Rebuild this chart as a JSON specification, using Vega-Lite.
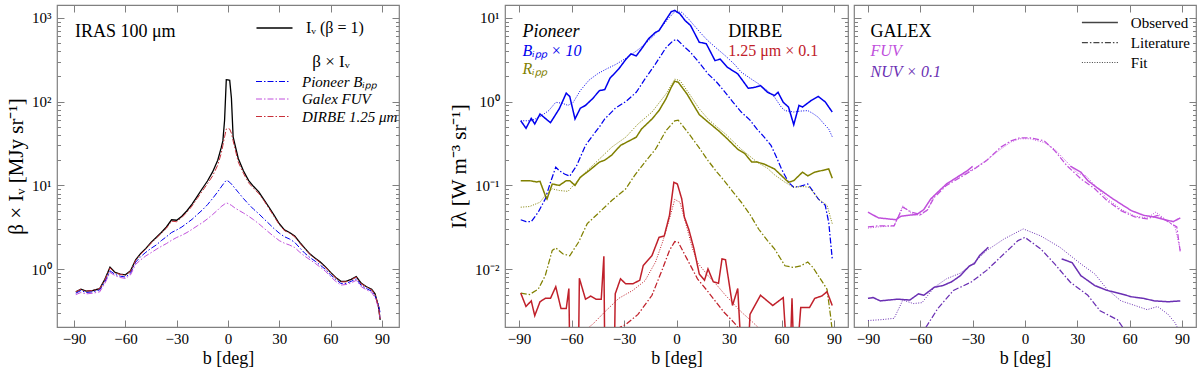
{
"$schema": "https://vega.github.io/schema/vega-lite/v6.json",
"padding": {"left": 4, "top": 3, "right": 0, "bottom": 0},
"spacing": 46,
"resolve": {"scale": {"color": "independent", "strokeDash": "independent", "strokeWidth": "independent"}},
"config": {
 "font": "Liberation Serif",
 "view": {"stroke": "#808080", "strokeWidth": 1.2},
 "axis": {"domain": false, "grid": false, "tickColor": "#808080", "tickWidth": 1, "labelFont": "Liberation Serif", "labelFontSize": 15, "labelColor": "#000000", "titleFont": "Liberation Serif", "titleFontWeight": "normal", "titleColor": "#000000", "labelOverlap": false, "labelFlush": false},
 "legend": {"labelFont": "Liberation Serif", "titleFont": "Liberation Serif", "padding": 0, "labelColor": "#000000", "titleColor": "#000000"},
 "text": {"font": "Liberation Serif"}
},
"datasets": {
"L": [
{"s":"I","b":-89,"v":0.54},{"s":"I","b":-86,"v":0.58},{"s":"I","b":-83,"v":0.55},{"s":"I","b":-79,"v":0.56},{"s":"I","b":-75,"v":0.59},{"s":"I","b":-72,"v":0.76},{"s":"I","b":-69,"v":1.06},{"s":"I","b":-66,"v":0.92},{"s":"I","b":-63,"v":0.88},{"s":"I","b":-60,"v":0.86},{"s":"I","b":-57,"v":0.96},{"s":"I","b":-54,"v":1.3},{"s":"I","b":-51,"v":1.55},{"s":"I","b":-48,"v":1.78},{"s":"I","b":-45,"v":2.1},{"s":"I","b":-42,"v":2.4},{"s":"I","b":-39,"v":2.75},{"s":"I","b":-36,"v":3.2},{"s":"I","b":-33,"v":3.9},{"s":"I","b":-30,"v":3.85},{"s":"I","b":-27,"v":4.3},{"s":"I","b":-24,"v":5.0},{"s":"I","b":-21,"v":6.0},{"s":"I","b":-18,"v":7.4},{"s":"I","b":-15,"v":9.2},{"s":"I","b":-12,"v":11.3},{"s":"I","b":-9,"v":14.5},{"s":"I","b":-6,"v":20},{"s":"I","b":-4,"v":28},{"s":"I","b":-3,"v":34},{"s":"I","b":-2,"v":60},{"s":"I","b":-1,"v":182},{"s":"I","b":0,"v":181},{"s":"I","b":1,"v":179},{"s":"I","b":2,"v":110},{"s":"I","b":3,"v":38},{"s":"I","b":4,"v":31},{"s":"I","b":6,"v":21},{"s":"I","b":9,"v":15},{"s":"I","b":12,"v":11.5},{"s":"I","b":15,"v":9.7},{"s":"I","b":18,"v":8.4},{"s":"I","b":21,"v":6.8},{"s":"I","b":24,"v":5.5},{"s":"I","b":27,"v":4.4},{"s":"I","b":30,"v":3.5},{"s":"I","b":33,"v":2.95},{"s":"I","b":36,"v":2.75},{"s":"I","b":39,"v":2.5},{"s":"I","b":42,"v":2.1},{"s":"I","b":45,"v":1.78},{"s":"I","b":48,"v":1.52},{"s":"I","b":51,"v":1.36},{"s":"I","b":54,"v":1.22},{"s":"I","b":57,"v":1.07},{"s":"I","b":60,"v":0.92},{"s":"I","b":63,"v":0.8},{"s":"I","b":66,"v":0.72},{"s":"I","b":69,"v":0.72},{"s":"I","b":72,"v":0.76},{"s":"I","b":75,"v":0.82},{"s":"I","b":78,"v":0.68},{"s":"I","b":81,"v":0.62},{"s":"I","b":84,"v":0.58},{"s":"I","b":86,"v":0.51},{"s":"I","b":88,"v":0.36},{"s":"I","b":89,"v":0.25},
{"s":"P","b":-89,"v":0.52},{"s":"P","b":-86,"v":0.56},{"s":"P","b":-83,"v":0.53},{"s":"P","b":-79,"v":0.54},{"s":"P","b":-75,"v":0.57},{"s":"P","b":-72,"v":0.71},{"s":"P","b":-69,"v":0.96},{"s":"P","b":-66,"v":0.87},{"s":"P","b":-63,"v":0.83},{"s":"P","b":-60,"v":0.81},{"s":"P","b":-57,"v":0.9},{"s":"P","b":-54,"v":1.22},{"s":"P","b":-51,"v":1.42},{"s":"P","b":-48,"v":1.6},{"s":"P","b":-45,"v":1.78},{"s":"P","b":-42,"v":1.95},{"s":"P","b":-39,"v":2.2},{"s":"P","b":-36,"v":2.45},{"s":"P","b":-33,"v":2.75},{"s":"P","b":-30,"v":2.95},{"s":"P","b":-27,"v":3.2},{"s":"P","b":-24,"v":3.55},{"s":"P","b":-21,"v":3.95},{"s":"P","b":-18,"v":4.5},{"s":"P","b":-15,"v":5.1},{"s":"P","b":-12,"v":5.9},{"s":"P","b":-9,"v":7.0},{"s":"P","b":-6,"v":8.4},{"s":"P","b":-4,"v":9.6},{"s":"P","b":-2,"v":10.9},{"s":"P","b":-1,"v":11.5},{"s":"P","b":0,"v":11.3},{"s":"P","b":1,"v":10.9},{"s":"P","b":2,"v":10.4},{"s":"P","b":4,"v":9.3},{"s":"P","b":6,"v":8.3},{"s":"P","b":9,"v":7.0},{"s":"P","b":12,"v":6.0},{"s":"P","b":15,"v":5.2},{"s":"P","b":18,"v":4.6},{"s":"P","b":21,"v":4.0},{"s":"P","b":24,"v":3.5},{"s":"P","b":27,"v":3.05},{"s":"P","b":30,"v":2.7},{"s":"P","b":33,"v":2.45},{"s":"P","b":36,"v":2.3},{"s":"P","b":39,"v":2.1},{"s":"P","b":42,"v":1.8},{"s":"P","b":45,"v":1.55},{"s":"P","b":48,"v":1.38},{"s":"P","b":51,"v":1.25},{"s":"P","b":54,"v":1.12},{"s":"P","b":57,"v":1.0},{"s":"P","b":60,"v":0.86},{"s":"P","b":63,"v":0.76},{"s":"P","b":66,"v":0.68},{"s":"P","b":69,"v":0.68},{"s":"P","b":72,"v":0.72},{"s":"P","b":75,"v":0.77},{"s":"P","b":78,"v":0.64},{"s":"P","b":81,"v":0.59},{"s":"P","b":84,"v":0.55},{"s":"P","b":86,"v":0.48},{"s":"P","b":88,"v":0.38},{"s":"P","b":89,"v":0.3},
{"s":"G","b":-89,"v":0.5},{"s":"G","b":-86,"v":0.53},{"s":"G","b":-83,"v":0.51},{"s":"G","b":-79,"v":0.52},{"s":"G","b":-75,"v":0.54},{"s":"G","b":-72,"v":0.68},{"s":"G","b":-69,"v":0.92},{"s":"G","b":-66,"v":0.84},{"s":"G","b":-63,"v":0.8},{"s":"G","b":-60,"v":0.78},{"s":"G","b":-57,"v":0.86},{"s":"G","b":-54,"v":1.15},{"s":"G","b":-51,"v":1.3},{"s":"G","b":-48,"v":1.45},{"s":"G","b":-45,"v":1.58},{"s":"G","b":-42,"v":1.73},{"s":"G","b":-39,"v":1.88},{"s":"G","b":-36,"v":2.03},{"s":"G","b":-33,"v":2.22},{"s":"G","b":-30,"v":2.4},{"s":"G","b":-27,"v":2.55},{"s":"G","b":-24,"v":2.75},{"s":"G","b":-21,"v":3.0},{"s":"G","b":-18,"v":3.3},{"s":"G","b":-15,"v":3.6},{"s":"G","b":-12,"v":4.0},{"s":"G","b":-9,"v":4.5},{"s":"G","b":-6,"v":5.1},{"s":"G","b":-4,"v":5.6},{"s":"G","b":-2,"v":6.0},{"s":"G","b":-1,"v":6.2},{"s":"G","b":0,"v":6.1},{"s":"G","b":1,"v":5.95},{"s":"G","b":2,"v":5.8},{"s":"G","b":4,"v":5.4},{"s":"G","b":6,"v":5.1},{"s":"G","b":9,"v":4.7},{"s":"G","b":12,"v":4.3},{"s":"G","b":15,"v":3.9},{"s":"G","b":18,"v":3.5},{"s":"G","b":21,"v":3.1},{"s":"G","b":24,"v":2.75},{"s":"G","b":27,"v":2.45},{"s":"G","b":30,"v":2.2},{"s":"G","b":33,"v":2.05},{"s":"G","b":36,"v":1.95},{"s":"G","b":39,"v":1.82},{"s":"G","b":42,"v":1.6},{"s":"G","b":45,"v":1.43},{"s":"G","b":48,"v":1.3},{"s":"G","b":51,"v":1.18},{"s":"G","b":54,"v":1.06},{"s":"G","b":57,"v":0.95},{"s":"G","b":60,"v":0.82},{"s":"G","b":63,"v":0.72},{"s":"G","b":66,"v":0.65},{"s":"G","b":69,"v":0.66},{"s":"G","b":72,"v":0.69},{"s":"G","b":75,"v":0.74},{"s":"G","b":78,"v":0.62},{"s":"G","b":81,"v":0.57},{"s":"G","b":84,"v":0.53},{"s":"G","b":86,"v":0.46},{"s":"G","b":88,"v":0.35},{"s":"G","b":89,"v":0.26},
{"s":"D","b":-89,"v":0.54},{"s":"D","b":-86,"v":0.58},{"s":"D","b":-83,"v":0.55},{"s":"D","b":-79,"v":0.56},{"s":"D","b":-75,"v":0.59},{"s":"D","b":-72,"v":0.75},{"s":"D","b":-69,"v":1.04},{"s":"D","b":-66,"v":0.91},{"s":"D","b":-63,"v":0.87},{"s":"D","b":-60,"v":0.85},{"s":"D","b":-57,"v":0.95},{"s":"D","b":-54,"v":1.28},{"s":"D","b":-51,"v":1.52},{"s":"D","b":-48,"v":1.75},{"s":"D","b":-45,"v":2.05},{"s":"D","b":-42,"v":2.35},{"s":"D","b":-39,"v":2.7},{"s":"D","b":-36,"v":3.1},{"s":"D","b":-33,"v":3.75},{"s":"D","b":-30,"v":3.7},{"s":"D","b":-27,"v":4.15},{"s":"D","b":-24,"v":4.8},{"s":"D","b":-21,"v":5.7},{"s":"D","b":-18,"v":7.0},{"s":"D","b":-15,"v":8.6},{"s":"D","b":-12,"v":10.5},{"s":"D","b":-9,"v":13},{"s":"D","b":-6,"v":17.5},{"s":"D","b":-4,"v":24},{"s":"D","b":-3,"v":30},{"s":"D","b":-2,"v":38},{"s":"D","b":-1,"v":47},{"s":"D","b":0,"v":48},{"s":"D","b":1,"v":47},{"s":"D","b":2,"v":42},{"s":"D","b":3,"v":34},{"s":"D","b":4,"v":28},{"s":"D","b":6,"v":19},{"s":"D","b":9,"v":14},{"s":"D","b":12,"v":10.8},{"s":"D","b":15,"v":9.2},{"s":"D","b":18,"v":8.0},{"s":"D","b":21,"v":6.6},{"s":"D","b":24,"v":5.3},{"s":"D","b":27,"v":4.25},{"s":"D","b":30,"v":3.4},{"s":"D","b":33,"v":2.9},{"s":"D","b":36,"v":2.7},{"s":"D","b":39,"v":2.45},{"s":"D","b":42,"v":2.05},{"s":"D","b":45,"v":1.75},{"s":"D","b":48,"v":1.5},{"s":"D","b":51,"v":1.34},{"s":"D","b":54,"v":1.2},{"s":"D","b":57,"v":1.05},{"s":"D","b":60,"v":0.91},{"s":"D","b":63,"v":0.79},{"s":"D","b":66,"v":0.71},{"s":"D","b":69,"v":0.71},{"s":"D","b":72,"v":0.75},{"s":"D","b":75,"v":0.81},{"s":"D","b":78,"v":0.67},{"s":"D","b":81,"v":0.62},{"s":"D","b":84,"v":0.57},{"s":"D","b":86,"v":0.5},{"s":"D","b":88,"v":0.36},{"s":"D","b":89,"v":0.25}
],
"M": [
{"s":"B","k":"o","b":-89,"v":0.59},{"s":"B","k":"o","b":-86,"v":0.48},{"s":"B","k":"o","b":-83,"v":0.63},{"s":"B","k":"o","b":-81,"v":0.54},{"s":"B","k":"o","b":-78,"v":0.71},{"s":"B","k":"o","b":-72,"v":0.56},{"s":"B","k":"o","b":-67,"v":0.82},{"s":"B","k":"o","b":-63,"v":1.26},{"s":"B","k":"o","b":-61,"v":1.15},{"s":"B","k":"o","b":-58,"v":0.62},{"s":"B","k":"o","b":-55,"v":0.83},{"s":"B","k":"o","b":-52,"v":0.9},{"s":"B","k":"o","b":-48,"v":1.08},{"s":"B","k":"o","b":-44,"v":1.35},{"s":"B","k":"o","b":-41,"v":1.39},{"s":"B","k":"o","b":-38,"v":1.9},{"s":"B","k":"o","b":-33,"v":2.45},{"s":"B","k":"o","b":-29,"v":3.17},{"s":"B","k":"o","b":-26,"v":3.7},{"s":"B","k":"o","b":-23,"v":3.5},{"s":"B","k":"o","b":-20,"v":4.25},{"s":"B","k":"o","b":-16,"v":5.6},{"s":"B","k":"o","b":-12,"v":6.7},{"s":"B","k":"o","b":-10,"v":7.0},{"s":"B","k":"o","b":-7,"v":8.8},{"s":"B","k":"o","b":-3,"v":11.8},{"s":"B","k":"o","b":-1,"v":12.2},{"s":"B","k":"o","b":2,"v":11.1},{"s":"B","k":"o","b":5,"v":9.2},{"s":"B","k":"o","b":8,"v":8.1},{"s":"B","k":"o","b":13,"v":5.1},{"s":"B","k":"o","b":17,"v":4.9},{"s":"B","k":"o","b":22,"v":3.08},{"s":"B","k":"o","b":25,"v":3.2},{"s":"B","k":"o","b":29,"v":2.57},{"s":"B","k":"o","b":35,"v":2.14},{"s":"B","k":"o","b":41,"v":1.44},{"s":"B","k":"o","b":45,"v":1.48},{"s":"B","k":"o","b":48,"v":1.55},{"s":"B","k":"o","b":52,"v":1.29},{"s":"B","k":"o","b":56,"v":1.18},{"s":"B","k":"o","b":58,"v":1.29},{"s":"B","k":"o","b":61,"v":0.98},{"s":"B","k":"o","b":64,"v":0.86},{"s":"B","k":"o","b":67,"v":0.53},{"s":"B","k":"o","b":70,"v":0.9},{"s":"B","k":"o","b":72,"v":0.86},{"s":"B","k":"o","b":77,"v":1.03},{"s":"B","k":"o","b":81,"v":1.15},{"s":"B","k":"o","b":85,"v":0.99},{"s":"B","k":"o","b":89,"v":0.75},
{"s":"B","k":"f","b":-89,"v":0.59},{"s":"B","k":"f","b":-83,"v":0.59},{"s":"B","k":"f","b":-78,"v":0.66},{"s":"B","k":"f","b":-73,"v":0.78},{"s":"B","k":"f","b":-69,"v":0.98},{"s":"B","k":"f","b":-65,"v":0.95},{"s":"B","k":"f","b":-62,"v":0.9},{"s":"B","k":"f","b":-59,"v":0.98},{"s":"B","k":"f","b":-55,"v":1.35},{"s":"B","k":"f","b":-50,"v":1.8},{"s":"B","k":"f","b":-45,"v":2.15},{"s":"B","k":"f","b":-40,"v":2.45},{"s":"B","k":"f","b":-35,"v":2.75},{"s":"B","k":"f","b":-31,"v":3.08},{"s":"B","k":"f","b":-26,"v":3.6},{"s":"B","k":"f","b":-21,"v":4.3},{"s":"B","k":"f","b":-16,"v":5.3},{"s":"B","k":"f","b":-12,"v":6.4},{"s":"B","k":"f","b":-8,"v":8.0},{"s":"B","k":"f","b":-4,"v":10.1},{"s":"B","k":"f","b":-1,"v":11.8},{"s":"B","k":"f","b":3,"v":11.6},{"s":"B","k":"f","b":7,"v":9.6},{"s":"B","k":"f","b":10,"v":8.1},{"s":"B","k":"f","b":14,"v":6.5},{"s":"B","k":"f","b":18,"v":5.3},{"s":"B","k":"f","b":23,"v":4.3},{"s":"B","k":"f","b":28,"v":3.5},{"s":"B","k":"f","b":33,"v":2.8},{"s":"B","k":"f","b":37,"v":2.24},{"s":"B","k":"f","b":42,"v":1.9},{"s":"B","k":"f","b":47,"v":1.62},{"s":"B","k":"f","b":52,"v":1.35},{"s":"B","k":"f","b":56,"v":1.13},{"s":"B","k":"f","b":60,"v":0.85},{"s":"B","k":"f","b":62,"v":0.78},{"s":"B","k":"f","b":67,"v":0.75},{"s":"B","k":"f","b":71,"v":0.77},{"s":"B","k":"f","b":75,"v":0.78},{"s":"B","k":"f","b":78,"v":0.72},{"s":"B","k":"f","b":81,"v":0.65},{"s":"B","k":"f","b":84,"v":0.55},{"s":"B","k":"f","b":87,"v":0.47},{"s":"B","k":"f","b":89,"v":0.38},
{"s":"B","k":"l","b":-89,"v":0.039},{"s":"B","k":"l","b":-86,"v":0.037},{"s":"B","k":"l","b":-83,"v":0.037},{"s":"B","k":"l","b":-79,"v":0.048},{"s":"B","k":"l","b":-75,"v":0.069},{"s":"B","k":"l","b":-72,"v":0.109},{"s":"B","k":"l","b":-69,"v":0.165},{"s":"B","k":"l","b":-67,"v":0.15},{"s":"B","k":"l","b":-64,"v":0.137},{"s":"B","k":"l","b":-61,"v":0.129},{"s":"B","k":"l","b":-57,"v":0.173},{"s":"B","k":"l","b":-52,"v":0.3},{"s":"B","k":"l","b":-48,"v":0.39},{"s":"B","k":"l","b":-44,"v":0.5},{"s":"B","k":"l","b":-41,"v":0.62},{"s":"B","k":"l","b":-35,"v":0.83},{"s":"B","k":"l","b":-29,"v":1.0},{"s":"B","k":"l","b":-23,"v":1.29},{"s":"B","k":"l","b":-18,"v":1.86},{"s":"B","k":"l","b":-12,"v":2.81},{"s":"B","k":"l","b":-6,"v":4.4},{"s":"B","k":"l","b":-2,"v":5.3},{"s":"B","k":"l","b":0,"v":5.5},{"s":"B","k":"l","b":1,"v":5.3},{"s":"B","k":"l","b":4,"v":4.6},{"s":"B","k":"l","b":8,"v":3.87},{"s":"B","k":"l","b":13,"v":2.9},{"s":"B","k":"l","b":18,"v":2.14},{"s":"B","k":"l","b":23,"v":1.7},{"s":"B","k":"l","b":27,"v":1.35},{"s":"B","k":"l","b":32,"v":1.0},{"s":"B","k":"l","b":37,"v":0.75},{"s":"B","k":"l","b":42,"v":0.6},{"s":"B","k":"l","b":46,"v":0.47},{"s":"B","k":"l","b":50,"v":0.38},{"s":"B","k":"l","b":54,"v":0.3},{"s":"B","k":"l","b":57,"v":0.22},{"s":"B","k":"l","b":60,"v":0.157},{"s":"B","k":"l","b":64,"v":0.109},{"s":"B","k":"l","b":67,"v":0.095},{"s":"B","k":"l","b":71,"v":0.098},{"s":"B","k":"l","b":75,"v":0.104},{"s":"B","k":"l","b":78,"v":0.085},{"s":"B","k":"l","b":81,"v":0.069},{"s":"B","k":"l","b":85,"v":0.058},{"s":"B","k":"l","b":87,"v":0.036},{"s":"B","k":"l","b":89,"v":0.0133},
{"s":"O","k":"o","b":-89,"v":0.114},{"s":"O","k":"o","b":-84,"v":0.114},{"s":"O","k":"o","b":-80,"v":0.11},{"s":"O","k":"o","b":-78,"v":0.112},{"s":"O","k":"o","b":-75,"v":0.076},{"s":"O","k":"o","b":-74,"v":0.069},{"s":"O","k":"o","b":-71,"v":0.104},{"s":"O","k":"o","b":-67,"v":0.1},{"s":"O","k":"o","b":-63,"v":0.114},{"s":"O","k":"o","b":-61,"v":0.114},{"s":"O","k":"o","b":-58,"v":0.1},{"s":"O","k":"o","b":-55,"v":0.125},{"s":"O","k":"o","b":-50,"v":0.15},{"s":"O","k":"o","b":-44,"v":0.19},{"s":"O","k":"o","b":-41,"v":0.2},{"s":"O","k":"o","b":-37,"v":0.23},{"s":"O","k":"o","b":-32,"v":0.3},{"s":"O","k":"o","b":-27,"v":0.34},{"s":"O","k":"o","b":-23,"v":0.376},{"s":"O","k":"o","b":-20,"v":0.47},{"s":"O","k":"o","b":-14,"v":0.62},{"s":"O","k":"o","b":-10,"v":0.78},{"s":"O","k":"o","b":-6,"v":1.08},{"s":"O","k":"o","b":-3,"v":1.48},{"s":"O","k":"o","b":-1,"v":1.75},{"s":"O","k":"o","b":1,"v":1.7},{"s":"O","k":"o","b":6,"v":1.23},{"s":"O","k":"o","b":13,"v":0.7},{"s":"O","k":"o","b":18,"v":0.57},{"s":"O","k":"o","b":24,"v":0.45},{"s":"O","k":"o","b":29,"v":0.36},{"s":"O","k":"o","b":35,"v":0.27},{"s":"O","k":"o","b":39,"v":0.24},{"s":"O","k":"o","b":43,"v":0.19},{"s":"O","k":"o","b":46,"v":0.19},{"s":"O","k":"o","b":50,"v":0.18},{"s":"O","k":"o","b":56,"v":0.157},{"s":"O","k":"o","b":60,"v":0.131},{"s":"O","k":"o","b":64,"v":0.109},{"s":"O","k":"o","b":67,"v":0.114},{"s":"O","k":"o","b":72,"v":0.144},{"s":"O","k":"o","b":75,"v":0.13},{"s":"O","k":"o","b":79,"v":0.144},{"s":"O","k":"o","b":84,"v":0.152},{"s":"O","k":"o","b":87,"v":0.157},{"s":"O","k":"o","b":89,"v":0.122},
{"s":"O","k":"f","b":-89,"v":0.055},{"s":"O","k":"f","b":-84,"v":0.056},{"s":"O","k":"f","b":-78,"v":0.063},{"s":"O","k":"f","b":-75,"v":0.076},{"s":"O","k":"f","b":-71,"v":0.091},{"s":"O","k":"f","b":-67,"v":0.087},{"s":"O","k":"f","b":-62,"v":0.085},{"s":"O","k":"f","b":-58,"v":0.105},{"s":"O","k":"f","b":-52,"v":0.144},{"s":"O","k":"f","b":-44,"v":0.207},{"s":"O","k":"f","b":-37,"v":0.286},{"s":"O","k":"f","b":-29,"v":0.376},{"s":"O","k":"f","b":-22,"v":0.54},{"s":"O","k":"f","b":-14,"v":0.75},{"s":"O","k":"f","b":-6,"v":1.23},{"s":"O","k":"f","b":-1,"v":1.85},{"s":"O","k":"f","b":2,"v":1.78},{"s":"O","k":"f","b":8,"v":1.18},{"s":"O","k":"f","b":13,"v":0.82},{"s":"O","k":"f","b":18,"v":0.62},{"s":"O","k":"f","b":23,"v":0.5},{"s":"O","k":"f","b":28,"v":0.41},{"s":"O","k":"f","b":37,"v":0.27},{"s":"O","k":"f","b":46,"v":0.19},{"s":"O","k":"f","b":52,"v":0.16},{"s":"O","k":"f","b":56,"v":0.134},{"s":"O","k":"f","b":62,"v":0.109},{"s":"O","k":"f","b":67,"v":0.095},{"s":"O","k":"f","b":72,"v":0.097},{"s":"O","k":"f","b":76,"v":0.095},{"s":"O","k":"f","b":81,"v":0.069},{"s":"O","k":"f","b":86,"v":0.058},{"s":"O","k":"f","b":89,"v":0.035},
{"s":"O","k":"l","b":-89,"v":0.0052},{"s":"O","k":"l","b":-84,"v":0.005},{"s":"O","k":"l","b":-79,"v":0.0058},{"s":"O","k":"l","b":-75,"v":0.0084},{"s":"O","k":"l","b":-71,"v":0.0168},{"s":"O","k":"l","b":-69,"v":0.018},{"s":"O","k":"l","b":-65,"v":0.0153},{"s":"O","k":"l","b":-61,"v":0.0145},{"s":"O","k":"l","b":-56,"v":0.021},{"s":"O","k":"l","b":-51,"v":0.035},{"s":"O","k":"l","b":-44,"v":0.048},{"s":"O","k":"l","b":-37,"v":0.066},{"s":"O","k":"l","b":-29,"v":0.091},{"s":"O","k":"l","b":-24,"v":0.131},{"s":"O","k":"l","b":-18,"v":0.19},{"s":"O","k":"l","b":-12,"v":0.27},{"s":"O","k":"l","b":-6,"v":0.45},{"s":"O","k":"l","b":-1,"v":0.59},{"s":"O","k":"l","b":1,"v":0.6},{"s":"O","k":"l","b":8,"v":0.39},{"s":"O","k":"l","b":13,"v":0.28},{"s":"O","k":"l","b":18,"v":0.198},{"s":"O","k":"l","b":23,"v":0.145},{"s":"O","k":"l","b":28,"v":0.109},{"s":"O","k":"l","b":32,"v":0.085},{"s":"O","k":"l","b":37,"v":0.063},{"s":"O","k":"l","b":42,"v":0.045},{"s":"O","k":"l","b":47,"v":0.03},{"s":"O","k":"l","b":52,"v":0.022},{"s":"O","k":"l","b":56,"v":0.0175},{"s":"O","k":"l","b":62,"v":0.011},{"s":"O","k":"l","b":67,"v":0.0105},{"s":"O","k":"l","b":71,"v":0.011},{"s":"O","k":"l","b":75,"v":0.0122},{"s":"O","k":"l","b":78,"v":0.0105},{"s":"O","k":"l","b":81,"v":0.0084},{"s":"O","k":"l","b":86,"v":0.0058},{"s":"O","k":"l","b":88,"v":0.0028},{"s":"O","k":"l","b":89.5,"v":0.0015},
{"s":"D","k":"o","b":-89,"v":0.0052},{"s":"D","k":"o","b":-86,"v":0.0036},{"s":"D","k":"o","b":-83,"v":0.0042},{"s":"D","k":"o","b":-81,"v":0.0028},{"s":"D","k":"o","b":-78,"v":0.0041},{"s":"D","k":"o","b":-75,"v":0.0045},{"s":"D","k":"o","b":-72,"v":0.0045},{"s":"D","k":"o","b":-69,"v":0.0062},{"s":"D","k":"o","b":-66,"v":0.0034},{"s":"D","k":"o","b":-63,"v":0.0034},{"s":"D","k":"o","b":-61.5,"v":0.0059},{"s":"D","k":"o","b":-61,"v":0.001},{"s":"D","k":"o","b":-56,"v":0.001},{"s":"D","k":"o","b":-55.5,"v":0.0078},{"s":"D","k":"o","b":-52,"v":0.0044},{"s":"D","k":"o","b":-49,"v":0.0048},{"s":"D","k":"o","b":-46,"v":0.0044},{"s":"D","k":"o","b":-43,"v":0.0044},{"s":"D","k":"o","b":-41.5,"v":0.0143},{"s":"D","k":"o","b":-41,"v":0.001},{"s":"D","k":"o","b":-35.5,"v":0.001},{"s":"D","k":"o","b":-35,"v":0.0051},{"s":"D","k":"o","b":-32,"v":0.0077},{"s":"D","k":"o","b":-29,"v":0.0067},{"s":"D","k":"o","b":-25,"v":0.0067},{"s":"D","k":"o","b":-21,"v":0.0074},{"s":"D","k":"o","b":-19,"v":0.0111},{"s":"D","k":"o","b":-14,"v":0.0146},{"s":"D","k":"o","b":-10,"v":0.024},{"s":"D","k":"o","b":-7,"v":0.025},{"s":"D","k":"o","b":-4,"v":0.044},{"s":"D","k":"o","b":-1.5,"v":0.109},{"s":"D","k":"o","b":0.5,"v":0.104},{"s":"D","k":"o","b":3,"v":0.069},{"s":"D","k":"o","b":4.5,"v":0.042},{"s":"D","k":"o","b":7,"v":0.03},{"s":"D","k":"o","b":10,"v":0.0175},{"s":"D","k":"o","b":13,"v":0.0088},{"s":"D","k":"o","b":16,"v":0.0074},{"s":"D","k":"o","b":18,"v":0.0101},{"s":"D","k":"o","b":21,"v":0.0071},{"s":"D","k":"o","b":24,"v":0.0068},{"s":"D","k":"o","b":26,"v":0.0133},{"s":"D","k":"o","b":28,"v":0.013},{"s":"D","k":"o","b":32,"v":0.0037},{"s":"D","k":"o","b":35,"v":0.0059},{"s":"D","k":"o","b":37,"v":0.001},{"s":"D","k":"o","b":41,"v":0.001},{"s":"D","k":"o","b":42,"v":0.0029},{"s":"D","k":"o","b":48,"v":0.0049},{"s":"D","k":"o","b":55,"v":0.0037},{"s":"D","k":"o","b":61,"v":0.0046},{"s":"D","k":"o","b":63,"v":0.001},{"s":"D","k":"o","b":65,"v":0.001},{"s":"D","k":"o","b":66,"v":0.0045},{"s":"D","k":"o","b":67,"v":0.001},{"s":"D","k":"o","b":69,"v":0.001},{"s":"D","k":"o","b":71,"v":0.0035},{"s":"D","k":"o","b":76,"v":0.0035},{"s":"D","k":"o","b":79,"v":0.0045},{"s":"D","k":"o","b":83,"v":0.0048},{"s":"D","k":"o","b":86,"v":0.0054},{"s":"D","k":"o","b":89,"v":0.0037},
{"s":"D","k":"f","b":-56,"v":0.0015},{"s":"D","k":"f","b":-52,"v":0.0019},{"s":"D","k":"f","b":-48,"v":0.0022},{"s":"D","k":"f","b":-41,"v":0.0031},{"s":"D","k":"f","b":-33,"v":0.0045},{"s":"D","k":"f","b":-25,"v":0.0056},{"s":"D","k":"f","b":-18,"v":0.0073},{"s":"D","k":"f","b":-12,"v":0.0122},{"s":"D","k":"f","b":-8,"v":0.021},{"s":"D","k":"f","b":-4,"v":0.04},{"s":"D","k":"f","b":-1,"v":0.068},{"s":"D","k":"f","b":2,"v":0.063},{"s":"D","k":"f","b":6,"v":0.031},{"s":"D","k":"f","b":9,"v":0.018},{"s":"D","k":"f","b":12,"v":0.012},{"s":"D","k":"f","b":18,"v":0.0084},{"s":"D","k":"f","b":23,"v":0.0065},{"s":"D","k":"f","b":28,"v":0.0049},{"s":"D","k":"f","b":37,"v":0.0031},{"s":"D","k":"f","b":43,"v":0.0024},{"s":"D","k":"f","b":48,"v":0.0019},{"s":"D","k":"f","b":52,"v":0.0015},
{"s":"D","k":"l","b":-38,"v":0.0015},{"s":"D","k":"l","b":-35,"v":0.0019},{"s":"D","k":"l","b":-29,"v":0.0022},{"s":"D","k":"l","b":-22,"v":0.0029},{"s":"D","k":"l","b":-14,"v":0.0049},{"s":"D","k":"l","b":-8,"v":0.0101},{"s":"D","k":"l","b":-4,"v":0.0168},{"s":"D","k":"l","b":-1,"v":0.0214},{"s":"D","k":"l","b":1,"v":0.021},{"s":"D","k":"l","b":6,"v":0.0133},{"s":"D","k":"l","b":12,"v":0.0077},{"s":"D","k":"l","b":18,"v":0.0054},{"s":"D","k":"l","b":27,"v":0.0031},{"s":"D","k":"l","b":33,"v":0.0023},{"s":"D","k":"l","b":37,"v":0.0018}
],
"R": [
{"s":"F","k":"o","b":-90,"v":0.048},{"s":"F","k":"o","b":-84,"v":0.041},{"s":"F","k":"o","b":-79,"v":0.04},{"s":"F","k":"o","b":-74,"v":0.039},{"s":"F","k":"o","b":-71,"v":0.043},{"s":"F","k":"o","b":-67,"v":0.044},{"s":"F","k":"o","b":-62,"v":0.045},{"s":"F","k":"o","b":-58,"v":0.0515},{"s":"F","k":"o","b":-54,"v":0.069},{"s":"F","k":"o","b":-50,"v":0.083},{"s":"F","k":"o","b":-45,"v":0.104},{"s":"F","k":"o","b":-39,"v":0.125},{"s":"F","k":"o","b":-33,"v":0.15},{"s":"F","k":"o","b":-30,"v":0.169},
{"s":"F2","k":"o","b":26,"v":0.17},{"s":"F2","k":"o","b":32,"v":0.144},{"s":"F2","k":"o","b":36,"v":0.114},{"s":"F2","k":"o","b":41,"v":0.095},{"s":"F2","k":"o","b":45,"v":0.083},{"s":"F2","k":"o","b":50,"v":0.07},{"s":"F2","k":"o","b":55,"v":0.06},{"s":"F2","k":"o","b":61,"v":0.05},{"s":"F2","k":"o","b":68,"v":0.044},{"s":"F2","k":"o","b":74,"v":0.042},{"s":"F2","k":"o","b":80,"v":0.039},{"s":"F2","k":"o","b":85,"v":0.037},{"s":"F2","k":"o","b":89,"v":0.041},
{"s":"F","k":"l","b":-90,"v":0.032},{"s":"F","k":"l","b":-84,"v":0.033},{"s":"F","k":"l","b":-75,"v":0.033},{"s":"F","k":"l","b":-70,"v":0.055},{"s":"F","k":"l","b":-65,"v":0.048},{"s":"F","k":"l","b":-60,"v":0.045},{"s":"F","k":"l","b":-56,"v":0.051},{"s":"F","k":"l","b":-52,"v":0.072},{"s":"F","k":"l","b":-45,"v":0.1},{"s":"F","k":"l","b":-37,"v":0.125},{"s":"F","k":"l","b":-29,"v":0.157},{"s":"F","k":"l","b":-22,"v":0.198},{"s":"F","k":"l","b":-14,"v":0.285},{"s":"F","k":"l","b":-8,"v":0.34},{"s":"F","k":"l","b":-3,"v":0.369},{"s":"F","k":"l","b":3,"v":0.369},{"s":"F","k":"l","b":11,"v":0.34},{"s":"F","k":"l","b":17,"v":0.26},{"s":"F","k":"l","b":24,"v":0.172},{"s":"F","k":"l","b":32,"v":0.12},{"s":"F","k":"l","b":40,"v":0.091},{"s":"F","k":"l","b":47,"v":0.066},{"s":"F","k":"l","b":55,"v":0.05},{"s":"F","k":"l","b":63,"v":0.042},{"s":"F","k":"l","b":70,"v":0.04},{"s":"F","k":"l","b":76,"v":0.044},{"s":"F","k":"l","b":82,"v":0.037},{"s":"F","k":"l","b":87,"v":0.032},{"s":"F","k":"l","b":89,"v":0.016},
{"s":"F","k":"f","b":-90,"v":0.031},{"s":"F","k":"f","b":-84,"v":0.032},{"s":"F","k":"f","b":-75,"v":0.033},{"s":"F","k":"f","b":-70,"v":0.057},{"s":"F","k":"f","b":-65,"v":0.046},{"s":"F","k":"f","b":-60,"v":0.044},{"s":"F","k":"f","b":-56,"v":0.05},{"s":"F","k":"f","b":-52,"v":0.076},{"s":"F","k":"f","b":-45,"v":0.105},{"s":"F","k":"f","b":-37,"v":0.128},{"s":"F","k":"f","b":-29,"v":0.16},{"s":"F","k":"f","b":-22,"v":0.2},{"s":"F","k":"f","b":-14,"v":0.27},{"s":"F","k":"f","b":-8,"v":0.33},{"s":"F","k":"f","b":-3,"v":0.36},{"s":"F","k":"f","b":3,"v":0.36},{"s":"F","k":"f","b":11,"v":0.325},{"s":"F","k":"f","b":17,"v":0.27},{"s":"F","k":"f","b":24,"v":0.19},{"s":"F","k":"f","b":30,"v":0.14},{"s":"F","k":"f","b":35,"v":0.13},{"s":"F","k":"f","b":40,"v":0.1},{"s":"F","k":"f","b":47,"v":0.07},{"s":"F","k":"f","b":55,"v":0.052},{"s":"F","k":"f","b":63,"v":0.043},{"s":"F","k":"f","b":70,"v":0.041},{"s":"F","k":"f","b":75,"v":0.048},{"s":"F","k":"f","b":80,"v":0.04},{"s":"F","k":"f","b":86,"v":0.032},{"s":"F","k":"f","b":89,"v":0.017},
{"s":"N","k":"o","b":-90,"v":0.0045},{"s":"N","k":"o","b":-87,"v":0.0046},{"s":"N","k":"o","b":-83,"v":0.0042},{"s":"N","k":"o","b":-73,"v":0.0044},{"s":"N","k":"o","b":-66,"v":0.0043},{"s":"N","k":"o","b":-61,"v":0.0051},{"s":"N","k":"o","b":-58,"v":0.0049},{"s":"N","k":"o","b":-52,"v":0.0061},{"s":"N","k":"o","b":-47,"v":0.0064},{"s":"N","k":"o","b":-42,"v":0.0071},{"s":"N","k":"o","b":-37,"v":0.0084},{"s":"N","k":"o","b":-32,"v":0.0109},{"s":"N","k":"o","b":-29,"v":0.0117},{"s":"N","k":"o","b":-26,"v":0.0146},{"s":"N","k":"o","b":-21,"v":0.0183},
{"s":"N2","k":"o","b":21,"v":0.0133},{"s":"N2","k":"o","b":27,"v":0.012},{"s":"N2","k":"o","b":32,"v":0.0084},{"s":"N2","k":"o","b":40,"v":0.0064},{"s":"N2","k":"o","b":47,"v":0.0056},{"s":"N2","k":"o","b":55,"v":0.0051},{"s":"N2","k":"o","b":61,"v":0.0047},{"s":"N2","k":"o","b":68,"v":0.0045},{"s":"N2","k":"o","b":74,"v":0.0042},{"s":"N2","k":"o","b":82,"v":0.0041},{"s":"N2","k":"o","b":89,"v":0.0042},
{"s":"N","k":"l","b":-59,"v":0.0015},{"s":"N","k":"l","b":-57,"v":0.002},{"s":"N","k":"l","b":-50,"v":0.0034},{"s":"N","k":"l","b":-41,"v":0.0056},{"s":"N","k":"l","b":-31,"v":0.007},{"s":"N","k":"l","b":-22,"v":0.0097},{"s":"N","k":"l","b":-12,"v":0.0153},{"s":"N","k":"l","b":-4,"v":0.022},{"s":"N","k":"l","b":0,"v":0.024},{"s":"N","k":"l","b":9,"v":0.0175},{"s":"N","k":"l","b":17,"v":0.0116},{"s":"N","k":"l","b":26,"v":0.007},{"s":"N","k":"l","b":36,"v":0.0049},{"s":"N","k":"l","b":43,"v":0.0032},{"s":"N","k":"l","b":53,"v":0.0025},{"s":"N","k":"l","b":57,"v":0.0019},{"s":"N","k":"l","b":59,"v":0.0015},
{"s":"N","k":"f","b":-90,"v":0.00245},{"s":"N","k":"f","b":-83,"v":0.0025},{"s":"N","k":"f","b":-75,"v":0.0026},{"s":"N","k":"f","b":-70,"v":0.0043},{"s":"N","k":"f","b":-64,"v":0.0039},{"s":"N","k":"f","b":-59,"v":0.004},{"s":"N","k":"f","b":-52,"v":0.0061},{"s":"N","k":"f","b":-45,"v":0.0077},{"s":"N","k":"f","b":-37,"v":0.009},{"s":"N","k":"f","b":-29,"v":0.0121},{"s":"N","k":"f","b":-22,"v":0.0167},{"s":"N","k":"f","b":-12,"v":0.023},{"s":"N","k":"f","b":-1,"v":0.0303},{"s":"N","k":"f","b":9,"v":0.025},{"s":"N","k":"f","b":20,"v":0.0183},{"s":"N","k":"f","b":32,"v":0.0116},{"s":"N","k":"f","b":40,"v":0.0088},{"s":"N","k":"f","b":47,"v":0.0058},{"s":"N","k":"f","b":55,"v":0.0042},{"s":"N","k":"f","b":63,"v":0.0037},{"s":"N","k":"f","b":70,"v":0.0033},{"s":"N","k":"f","b":76,"v":0.0036},{"s":"N","k":"f","b":82,"v":0.0029},{"s":"N","k":"f","b":86,"v":0.0023},{"s":"N","k":"f","b":88,"v":0.0019},{"s":"N","k":"f","b":89,"v":0.0015}
]
},
"hconcat": [
{
 "width": 342, "height": 322,
 "data": {"name": "L"},
 "layer": [
  {"transform": [{"filter": "datum.s == 'I'"}],
   "mark": {"type": "line", "strokeWidth": 1.3, "clip": true},
   "encoding": {
    "x": {"field": "b", "type": "quantitative", "scale": {"domain": [-100, 100]}, "axis": {"orient": "bottom", "values": [-90,-60,-30,0,30,60,90], "tickSize": -7, "labelPadding": 11, "labelExpr": "datum.value < 0 ? '−' + abs(datum.value) : '' + datum.value", "title": "b [deg]", "titleFontSize": 18, "titlePadding": 3}},
    "y": {"field": "v", "type": "quantitative", "scale": {"type": "log", "domain": [0.2056, 1416]}, "axis": {"orient": "left", "values": [0.2,0.3,0.4,0.5,0.6,0.7,0.8,0.9,1,2,3,4,5,6,7,8,9,10,20,30,40,50,60,70,80,90,100,200,300,400,500,600,700,800,900,1000], "tickSize": {"condition": {"test": "indexof([1,10,100,1000], datum.value) >= 0", "value": -7}, "value": -3.5}, "labelPadding": 13, "labelExpr": "datum.value == 1000 ? '10³' : datum.value == 100 ? '10²' : datum.value == 10 ? '10¹' : datum.value == 1 ? '10⁰' : ''", "title": "β × Iᵥ [MJy sr⁻¹]", "titleFontSize": 21, "titlePadding": 5}},
    "color": {"field": "s", "type": "nominal", "scale": {"domain": ["I"], "range": ["#000000"]}, "legend": {"orient": "none", "legendX": 209.5, "legendY": 15, "title": null, "labelExpr": "'Iᵥ (β = 1)'", "labelFontSize": 16, "symbolType": "stroke", "symbolSize": 100, "symbolStrokeWidth": 1.3, "labelOffset": 23.5, "encode": {"symbols": {"update": {"shape": {"value": "M-3.6,0H3.6"}}}}}}
   }},
  {"transform": [{"filter": "datum.s != 'I'"}],
   "mark": {"type": "line", "strokeWidth": 1, "strokeDash": [6, 2, 1.5, 2], "clip": true},
   "encoding": {
    "x": {"field": "b", "type": "quantitative", "scale": {"domain": [-100, 100]}, "axis": null},
    "y": {"field": "v", "type": "quantitative", "scale": {"type": "log", "domain": [0.2056, 1416]}, "axis": null},
    "color": {"field": "s", "type": "nominal", "scale": {"domain": ["P","G","D"], "range": ["#0000ee","#c04fdc","#c8303a"]}, "legend": {"orient": "none", "legendX": 208, "legendY": 49, "title": "β × Iᵥ", "titleFontSize": 17, "titleFontWeight": "normal", "titleAnchor": "middle", "titlePadding": 3, "labelExpr": "datum.value == 'P' ? 'Pioneer Bᵢₚₚ' : datum.value == 'G' ? 'Galex FUV' : 'DIRBE 1.25 μm'", "labelFontStyle": "italic", "labelFontSize": 15, "symbolType": "stroke", "symbolSize": 100, "symbolStrokeWidth": 1, "symbolDash": [6, 2, 1.5, 2], "labelOffset": 22, "rowPadding": 1.5, "encode": {"symbols": {"update": {"shape": {"value": "M-3.3,0H3.3"}}}}}}
   }},
  {"transform": [{"filter": "datum.s == 'I'"}],
   "mark": {"type": "point", "opacity": 0},
   "encoding": {
    "x": {"field": "b", "type": "quantitative", "scale": {"domain": [-100, 100]}, "axis": {"orient": "top", "values": [-90,-60,-30,0,30,60,90], "tickSize": -7, "labels": false, "title": null}},
    "y": {"field": "v", "type": "quantitative", "scale": {"type": "log", "domain": [0.2056, 1416]}, "axis": {"orient": "right", "values": [0.2,0.3,0.4,0.5,0.6,0.7,0.8,0.9,1,2,3,4,5,6,7,8,9,10,20,30,40,50,60,70,80,90,100,200,300,400,500,600,700,800,900,1000], "tickSize": {"condition": {"test": "indexof([1,10,100,1000], datum.value) >= 0", "value": -7}, "value": -3.5}, "labels": false, "title": null}}
   }},
  {"data": {"values": [{}]},
   "mark": {"type": "text", "text": "IRAS 100 μm", "fontSize": 18, "align": "left", "baseline": "alphabetic", "color": "#000000"},
   "encoding": {"x": {"datum": -89.5, "type": "quantitative", "scale": {"domain": [-100, 100]}, "axis": null}, "y": {"datum": 583, "type": "quantitative", "scale": {"type": "log", "domain": [0.2056, 1416]}, "axis": null}}}
 ],
 "resolve": {"scale": {"color": "independent"}, "axis": {"x": "independent", "y": "independent"}}
},
{
 "spacing": 2,
 "resolve": {"scale": {"color": "independent", "strokeDash": "independent", "strokeWidth": "independent"}},
 "hconcat": [
 {
  "width": 343, "height": 322,
  "data": {"name": "M"},
  "layer": [
   {"mark": {"type": "line", "clip": true},
    "encoding": {
     "x": {"field": "b", "type": "quantitative", "scale": {"domain": [-98, 98]}, "axis": {"orient": "bottom", "values": [-90,-60,-30,0,30,60,90], "tickSize": -7, "labelPadding": 11, "labelExpr": "datum.value < 0 ? '−' + abs(datum.value) : '' + datum.value", "title": "b [deg]", "titleFontSize": 18, "titlePadding": 3}},
     "y": {"field": "v", "type": "quantitative", "scale": {"type": "log", "domain": [0.00205, 14.17]}, "axis": {"orient": "left", "values": [0.003,0.004,0.005,0.006,0.007,0.008,0.009,0.01,0.02,0.03,0.04,0.05,0.06,0.07,0.08,0.09,0.1,0.2,0.3,0.4,0.5,0.6,0.7,0.8,0.9,1,2,3,4,5,6,7,8,9,10], "tickSize": {"condition": {"test": "indexof([0.01,0.1,1,10], datum.value) >= 0", "value": -7}, "value": -3.5}, "labelPadding": 13, "labelExpr": "datum.value == 10 ? '10¹' : datum.value == 1 ? '10⁰' : datum.value == 0.1 ? '10⁻¹' : datum.value == 0.01 ? '10⁻²' : ''", "title": "Iλ [W m⁻³ sr⁻¹]", "titleFontSize": 21, "titlePadding": 5}},
     "color": {"field": "s", "type": "nominal", "scale": {"domain": ["B","O","D"], "range": ["#0000ee","#808000","#c0202a"]}, "legend": null},
     "strokeDash": {"field": "k", "type": "nominal", "scale": {"domain": ["o","l","f"], "range": [[1,0],[6,2,1.5,2],[1,1.5]]}, "legend": null},
     "strokeWidth": {"field": "k", "type": "ordinal", "scale": {"domain": ["o","l","f"], "range": [1.5,1,1]}, "legend": null}
    }},
   {"transform": [{"filter": "datum.s == 'B'"}],
    "mark": {"type": "point", "opacity": 0},
    "encoding": {
     "x": {"field": "b", "type": "quantitative", "scale": {"domain": [-98, 98]}, "axis": {"orient": "top", "values": [-90,-60,-30,0,30,60,90], "tickSize": -7, "labels": false, "title": null}},
     "y": {"field": "v", "type": "quantitative", "scale": {"type": "log", "domain": [0.00205, 14.17]}, "axis": {"orient": "right", "values": [0.003,0.004,0.005,0.006,0.007,0.008,0.009,0.01,0.02,0.03,0.04,0.05,0.06,0.07,0.08,0.09,0.1,0.2,0.3,0.4,0.5,0.6,0.7,0.8,0.9,1,2,3,4,5,6,7,8,9,10], "tickSize": {"condition": {"test": "indexof([0.01,0.1,1,10], datum.value) >= 0", "value": -7}, "value": -3.5}, "labels": false, "title": null}}
    }},
   {"data": {"values": [{}]},
    "mark": {"type": "text", "text": "Pioneer", "fontSize": 18, "fontStyle": "italic", "align": "left", "baseline": "alphabetic", "color": "#000000"},
    "encoding": {"x": {"datum": -88, "type": "quantitative", "scale": {"domain": [-98, 98]}, "axis": null}, "y": {"datum": 5.89, "type": "quantitative", "scale": {"type": "log", "domain": [0.00205, 14.17]}, "axis": null}}},
   {"data": {"values": [{}]},
    "mark": {"type": "text", "text": "Bᵢₚₚ × 10", "fontSize": 16, "fontStyle": "italic", "align": "left", "baseline": "alphabetic", "color": "#0000ee"},
    "encoding": {"x": {"datum": -88, "type": "quantitative", "scale": {"domain": [-98, 98]}, "axis": null}, "y": {"datum": 3.45, "type": "quantitative", "scale": {"type": "log", "domain": [0.00205, 14.17]}, "axis": null}}},
   {"data": {"values": [{}]},
    "mark": {"type": "text", "text": "Rᵢₚₚ", "fontSize": 16, "fontStyle": "italic", "align": "left", "baseline": "alphabetic", "color": "#808000"},
    "encoding": {"x": {"datum": -88, "type": "quantitative", "scale": {"domain": [-98, 98]}, "axis": null}, "y": {"datum": 2.13, "type": "quantitative", "scale": {"type": "log", "domain": [0.00205, 14.17]}, "axis": null}}},
   {"data": {"values": [{}]},
    "mark": {"type": "text", "text": "DIRBE", "fontSize": 18, "align": "left", "baseline": "alphabetic", "color": "#000000"},
    "encoding": {"x": {"datum": 29.5, "type": "quantitative", "scale": {"domain": [-98, 98]}, "axis": null}, "y": {"datum": 5.89, "type": "quantitative", "scale": {"type": "log", "domain": [0.00205, 14.17]}, "axis": null}}},
   {"data": {"values": [{}]},
    "mark": {"type": "text", "text": "1.25 μm × 0.1", "fontSize": 16, "align": "left", "baseline": "alphabetic", "color": "#c0202a"},
    "encoding": {"x": {"datum": 29.5, "type": "quantitative", "scale": {"domain": [-98, 98]}, "axis": null}, "y": {"datum": 3.45, "type": "quantitative", "scale": {"type": "log", "domain": [0.00205, 14.17]}, "axis": null}}}
  ],
  "resolve": {"axis": {"x": "independent", "y": "independent"}}
 },
 {
  "width": 342, "height": 322,
  "data": {"name": "R"},
  "layer": [
   {"mark": {"type": "line", "clip": true},
    "encoding": {
     "x": {"field": "b", "type": "quantitative", "scale": {"domain": [-98, 98]}, "axis": {"orient": "bottom", "values": [-90,-60,-30,0,30,60,90], "tickSize": -7, "labelPadding": 11, "labelExpr": "datum.value < 0 ? '−' + abs(datum.value) : '' + datum.value", "title": "b [deg]", "titleFontSize": 18, "titlePadding": 3}},
     "y": {"field": "v", "type": "quantitative", "scale": {"type": "log", "domain": [0.00205, 14.17]}, "axis": {"orient": "left", "values": [0.003,0.004,0.005,0.006,0.007,0.008,0.009,0.01,0.02,0.03,0.04,0.05,0.06,0.07,0.08,0.09,0.1,0.2,0.3,0.4,0.5,0.6,0.7,0.8,0.9,1,2,3,4,5,6,7,8,9,10], "tickSize": {"condition": {"test": "indexof([0.01,0.1,1,10], datum.value) >= 0", "value": -7}, "value": -3.5}, "labels": false, "title": null}},
     "color": {"field": "s", "type": "nominal", "scale": {"domain": ["F","F2","N","N2"], "range": ["#c04fdc","#c04fdc","#6a2fb3","#6a2fb3"]}, "legend": null},
     "strokeDash": {"field": "k", "type": "nominal", "scale": {"domain": ["o","l","f"], "range": [[1,0],[6,2,1.5,2],[1,1.5]]}, "legend": {"orient": "none", "legendX": 238.4, "legendY": 10, "title": null, "labelExpr": "datum.value == 'o' ? 'Observed' : datum.value == 'l' ? 'Literature' : 'Fit'", "labelFontSize": 15, "symbolType": "stroke", "symbolSize": 100, "symbolStrokeColor": "#444444", "symbolStrokeWidth": 1.3, "labelOffset": 23.4, "rowPadding": 4, "encode": {"symbols": {"update": {"shape": {"value": "M-3.6,0H3.6"}}}}}},
     "strokeWidth": {"field": "k", "type": "ordinal", "scale": {"domain": ["o","l","f"], "range": [1.5,1,1]}, "legend": null}
    }},
   {"transform": [{"filter": "datum.s == 'F'"}],
    "mark": {"type": "point", "opacity": 0},
    "encoding": {
     "x": {"field": "b", "type": "quantitative", "scale": {"domain": [-98, 98]}, "axis": {"orient": "top", "values": [-90,-60,-30,0,30,60,90], "tickSize": -7, "labels": false, "title": null}},
     "y": {"field": "v", "type": "quantitative", "scale": {"type": "log", "domain": [0.00205, 14.17]}, "axis": {"orient": "right", "values": [0.003,0.004,0.005,0.006,0.007,0.008,0.009,0.01,0.02,0.03,0.04,0.05,0.06,0.07,0.08,0.09,0.1,0.2,0.3,0.4,0.5,0.6,0.7,0.8,0.9,1,2,3,4,5,6,7,8,9,10], "tickSize": {"condition": {"test": "indexof([0.01,0.1,1,10], datum.value) >= 0", "value": -7}, "value": -3.5}, "labels": false, "title": null}}
    }},
   {"data": {"values": [{}]},
    "mark": {"type": "text", "text": "GALEX", "fontSize": 18, "align": "left", "baseline": "alphabetic", "color": "#000000"},
    "encoding": {"x": {"datum": -88.5, "type": "quantitative", "scale": {"domain": [-98, 98]}, "axis": null}, "y": {"datum": 5.89, "type": "quantitative", "scale": {"type": "log", "domain": [0.00205, 14.17]}, "axis": null}}},
   {"data": {"values": [{}]},
    "mark": {"type": "text", "text": "FUV", "fontSize": 16, "fontStyle": "italic", "align": "left", "baseline": "alphabetic", "color": "#c04fdc"},
    "encoding": {"x": {"datum": -88.5, "type": "quantitative", "scale": {"domain": [-98, 98]}, "axis": null}, "y": {"datum": 3.45, "type": "quantitative", "scale": {"type": "log", "domain": [0.00205, 14.17]}, "axis": null}}},
   {"data": {"values": [{}]},
    "mark": {"type": "text", "text": "NUV × 0.1", "fontSize": 16, "fontStyle": "italic", "align": "left", "baseline": "alphabetic", "color": "#6a2fb3"},
    "encoding": {"x": {"datum": -88.5, "type": "quantitative", "scale": {"domain": [-98, 98]}, "axis": null}, "y": {"datum": 1.96, "type": "quantitative", "scale": {"type": "log", "domain": [0.00205, 14.17]}, "axis": null}}}
  ],
  "resolve": {"axis": {"x": "independent", "y": "independent"}}
 }
 ]
}
]
}
